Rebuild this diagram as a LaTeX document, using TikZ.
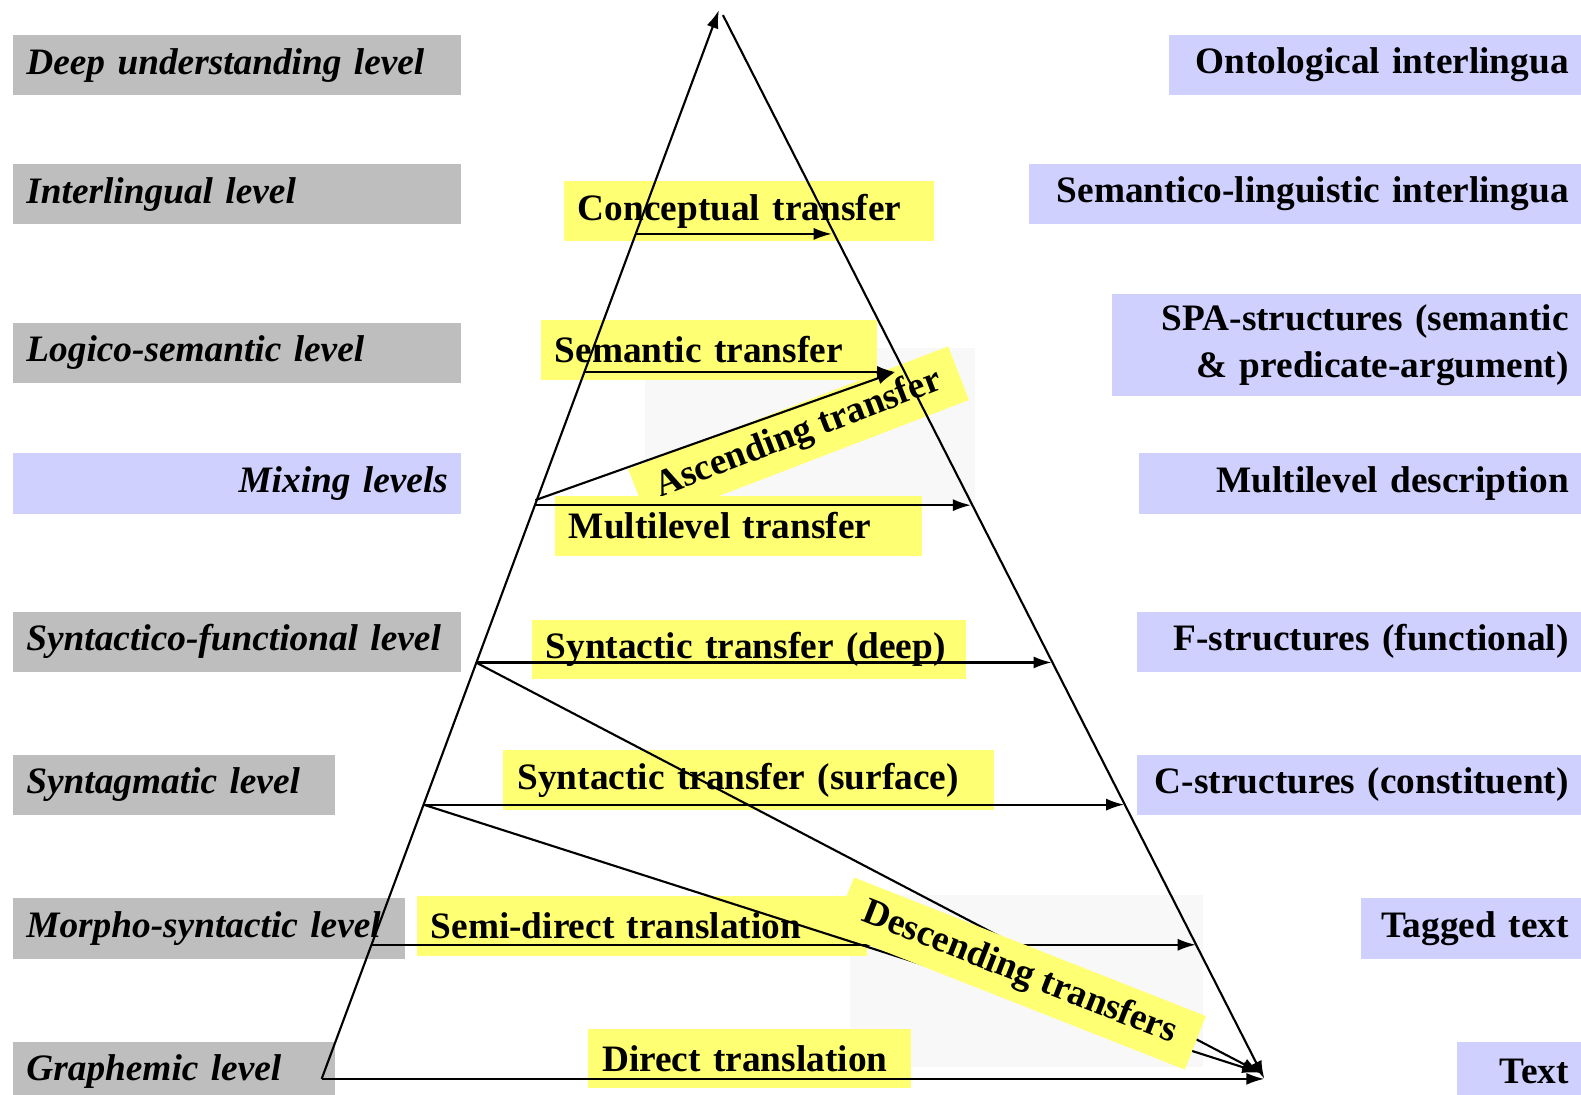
\documentclass[tikz,border=0pt]{standalone}
\usepackage{fontspec}
\setmainfont{Liberation Serif}
\usetikzlibrary{positioning,arrows.meta,calc}

\definecolor{levelgray}{RGB}{190,190,190}
\definecolor{descblue}{RGB}{208,208,255}
\definecolor{xferyellow}{RGB}{255,255,115}
\definecolor{ghostgray}{RGB}{248,248,248}
\newcommand{\bigfont}{\fontsize{37}{46}\selectfont}

\tikzset{
  levelbox/.style={fill=levelgray, font=\bigfont\bfseries\itshape, anchor=west,
    align=left, text width=#1, inner xsep=13pt, inner ysep=0pt, minimum height=60pt},
  mixbox/.style={levelbox=#1, fill=descblue, align=right},
  descbox/.style={fill=descblue, font=\bigfont\bfseries, anchor=east,
    align=right, text width=#1, inner xsep=12pt, inner ysep=0pt, minimum height=60pt},
  xferbox/.style={fill=xferyellow, font=\bigfont\bfseries, anchor=west,
    align=left, text width=#1, inner xsep=14pt, inner ysep=0pt, minimum height=59pt},
  slantbox/.style={fill=xferyellow, font=\bigfont\bfseries, minimum width=#1,
    inner sep=0pt, minimum height=57pt},
  xfer/.style={line width=2.1pt, -{Latex[length=18pt,width=12pt]}},
  edgeline/.style={line width=2.1pt}
}

\begin{document}
\begin{tikzpicture}[x=1pt, y=-1pt]
  \useasboundingbox (0,0) rectangle (1568,1085);

  % faint backdrops behind the slanted labels
  \fill[ghostgray] (640,345) rectangle (967,500);
  \fill[ghostgray] (843,888) rectangle (1193,1058);

  % levels of analysis
  \node[levelbox=418pt] (deep) at (13,64.5) {Deep understanding level};
  \node[levelbox=418pt] (inter) at (13,192.5) {Interlingual level};
  \node[levelbox=418pt] (logic) at (13,350) {Logico-semantic level};
  \node[mixbox=418pt] (mix) at (13,479.5) {Mixing levels};
  \node[levelbox=418pt] (synfun) at (13,636.5) {Syntactico-functional level};
  \node[levelbox=293pt] (syntag) at (13,778.5) {Syntagmatic level};
  \node[levelbox=362pt] (morph) at (13,921) {Morpho-syntactic level};
  \node[levelbox=293pt] (graph) at (13,1063) {Graphemic level};

  % representations
  \node[descbox=384pt] (onto) at (1568,64.5) {Ontological interlingua};
  \node[descbox=523pt] (semling) at (1568,192.5) {Semantico-linguistic interlingua};
  \node[descbox=441pt, minimum height=101pt] (spa) at (1568,342.5)
    {SPA-structures (semantic\\ \& predicate-argument)};
  \node[descbox=414pt] (multidesc) at (1568,479.5) {Multilevel description};
  \node[descbox=416pt] (fstr) at (1568,636.5) {F-structures (functional)};
  \node[descbox=416pt] (cstr) at (1568,778.5) {C-structures (constituent)};
  \node[descbox=194pt] (tagged) at (1568,921) {Tagged text};
  \node[descbox=99pt] (text) at (1568,1063) {Text};

  % transfer labels
  \node[xferbox=339pt] (concept) at (559,209.5) {Conceptual transfer};
  \node[xferbox=306pt] (sem) at (536,347) {Semantic transfer};
  \node[slantbox=340pt, rotate=21] (asc) at (792,431) {Ascending transfer};
  \node[xferbox=336pt] (multi) at (550,521.5) {Multilevel transfer};
  \node[xferbox=403pt] (deepx) at (527,644) {Syntactic transfer (deep)};
  \node[xferbox=459pt] (surfx) at (499,773.5) {Syntactic transfer (surface)};
  \node[xferbox=419pt] (semidir) at (413,918.5) {Semi-direct translation};
  \node[xferbox=292pt] (direct) at (583,1050) {Direct translation};

  % the pyramid
  \coordinate (top) at (713,10);
  \coordinate (apex) at (717,15);
  \coordinate (bl) at (319,1070);
  \coordinate (br) at (1254,1070);
  \coordinate (dn) at (1250,1064);

  \coordinate (l1) at (630,232);  \coordinate (r1) at (825,232);
  \coordinate (l2) at (580,369);  \coordinate (r2) at (888,369);
  \coordinate (lm) at (531,496);
  \coordinate (l3) at (530,501);  \coordinate (r3) at (963,501);
  \coordinate (l4) at (472,657);  \coordinate (r4) at (1043,657);
  \coordinate (l5) at (420,798);  \coordinate (r5) at (1115,798);
  \coordinate (l6) at (368,937);  \coordinate (r6) at (1186,937);

  \draw[xfer] (bl) -- (top);
  \draw[xfer] (apex) -- (br);
  \draw[xfer] (bl) -- (br);

  \draw[xfer] (l1) -- (r1);
  \draw[xfer] (l2) -- (r2);
  \draw[xfer] (lm) -- (r2);
  \draw[xfer] (l3) -- (r3);
  \draw[xfer] (l4) -- (r4);
  \draw[xfer] (l5) -- (r5);
  \draw[xfer] (l6) -- (r6);
  \draw[xfer] (l4) -- (dn);
  \draw[xfer] (l5) -- (dn);

  \node[slantbox=375pt, rotate=-21.5] (desc) at (1011,965.5) {Descending transfers};
\end{tikzpicture}
\end{document}
